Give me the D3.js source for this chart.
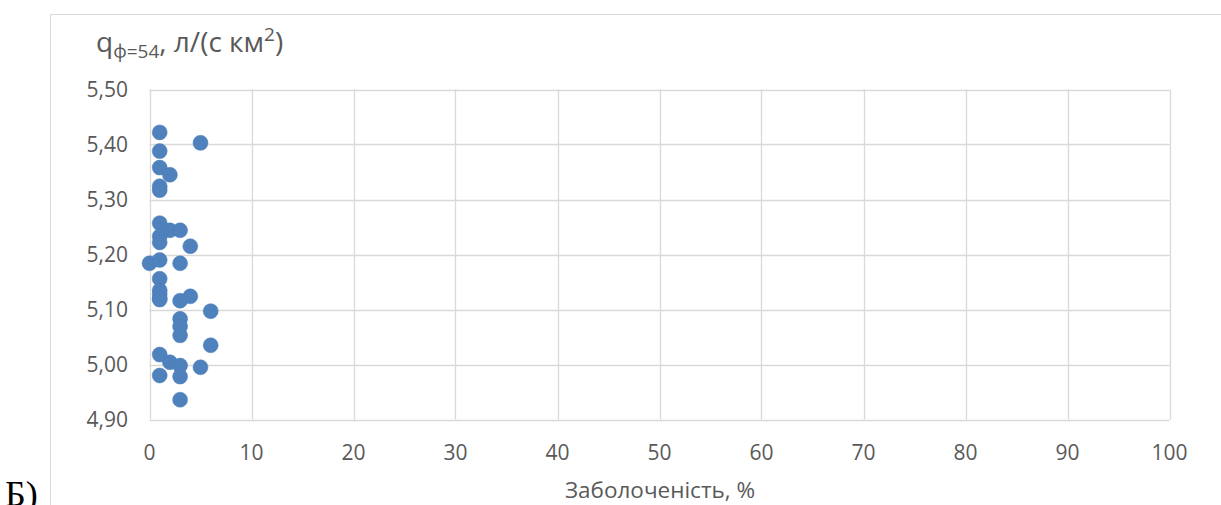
<!DOCTYPE html>
<html>
<head>
<meta charset="utf-8">
<script src="https://cdn.jsdelivr.net/npm/d3@7"></script>
<style>
    body { margin: 0; background: #fff; }
    svg { display: block; }
</style>
</head>
<body>
<div id="chart"></div>
<script>
// заболоченість, %
const swampiness = [1, 5, 1, 1, 2, 1, 1, 1, 2, 3, 1, 1, 4, 0, 1, 3, 1, 1, 1, 1, 1, 3, 4, 6, 3, 3, 3, 6, 1, 2, 3, 5, 1, 3, 3];
// q, л/(с км2)
const runoff = [5.422, 5.403, 5.388, 5.358, 5.345, 5.324, 5.317, 5.257, 5.244, 5.244, 5.233, 5.222, 5.215, 5.184, 5.190,
    5.184, 5.156, 5.135, 5.128, 5.120, 5.118, 5.116, 5.124, 5.097, 5.083, 5.069, 5.053, 5.035, 5.018, 5.004, 4.998,
    4.995, 4.980, 4.978, 4.936];

const xTicks = [0, 10, 20, 30, 40, 50, 60, 70, 80, 90, 100];
const yTicks = [4.9, 5.0, 5.1, 5.2, 5.3, 5.4, 5.5];

const W = 1221, H = 505;
const plot = {left: 149.5, right: 1169.5, top: 89.5, bottom: 419.5};
const font = "'Open Sans', sans-serif";

const svg = d3.select("#chart").append("svg")
    .attr("width", W)
    .attr("height", H);

// chart frame
svg.append("path")
    .attr("d", `M50.5,${H} V14.5 H${W}`)
    .attr("fill", "none")
    .attr("stroke", "#d9d9d9");

const x = d3.scaleLinear().domain([0, 100]).range([plot.left, plot.right]);
const y = d3.scaleLinear().domain([4.9, 5.5]).range([plot.bottom, plot.top]);

// grid
svg.append("g")
    .selectAll("line")
    .data(yTicks)
    .enter()
        .append("line")
        .attr("x1", plot.left).attr("x2", plot.right)
        .attr("y1", d => Math.round(y(d)) + 0.5).attr("y2", d => Math.round(y(d)) + 0.5)
        .attr("stroke", "#d9d9d9").attr("stroke-width", 1.3);

svg.append("g")
    .selectAll("line")
    .data(xTicks)
    .enter()
        .append("line")
        .attr("y1", plot.top).attr("y2", plot.bottom)
        .attr("x1", d => Math.round(x(d)) + 0.5).attr("x2", d => Math.round(x(d)) + 0.5)
        .attr("stroke", "#d9d9d9").attr("stroke-width", 1.3);

// tick labels
const fmt = d => d3.format(".2f")(d).replace(".", ",");
svg.append("g")
    .selectAll("text")
    .data(yTicks)
    .enter()
        .append("text")
        .attr("x", 128)
        .attr("y", d => y(d))
        .attr("dy", "0.36em")
        .attr("text-anchor", "end")
        .attr("fill", "#595959")
        .style("font", `21px ${font}`)
        .text(fmt);

svg.append("g")
    .selectAll("text")
    .data(xTicks)
    .enter()
        .append("text")
        .attr("x", d => x(d))
        .attr("y", 452)
        .attr("dy", "0.36em")
        .attr("text-anchor", "middle")
        .attr("fill", "#595959")
        .style("font", `21px ${font}`)
        .text(d => d);

// points
svg.append("g")
    .selectAll("circle")
    .data(swampiness)
    .enter()
        .append("circle")
        .attr("cx", d => x(d))
        .attr("cy", (d, i) => y(runoff[i]))
        .attr("r", 7.5)
        .attr("fill", "#4f81bd")
        .attr("stroke", "#4a7ebb")
        .attr("stroke-width", 0.5);

// titles
const yTitle = svg.append("text")
    .attr("x", 96)
    .attr("y", 52)
    .attr("fill", "#595959")
    .style("font", `28px ${font}`);
yTitle.append("tspan").text("q");
yTitle.append("tspan").attr("dy", 6).style("font-size", "19px").text("ф=54");
yTitle.append("tspan").attr("dy", -6).text(", л/(с км");
yTitle.append("tspan").attr("dy", -11).style("font-size", "19px").text("2");
yTitle.append("tspan").attr("dy", 11).text(")");

svg.append("text")
    .attr("x", 660)
    .attr("y", 490)
    .attr("dy", "0.36em")
    .attr("text-anchor", "middle")
    .attr("fill", "#595959")
    .style("font", `22.5px ${font}`)
    .text("Заболоченість, %");

svg.append("text")
    .attr("x", 5)
    .attr("y", 506)
    .attr("fill", "#000")
    .style("font", `36px 'Liberation Serif', serif`)
    .text("Б)");
</script>
</body>
</html>
